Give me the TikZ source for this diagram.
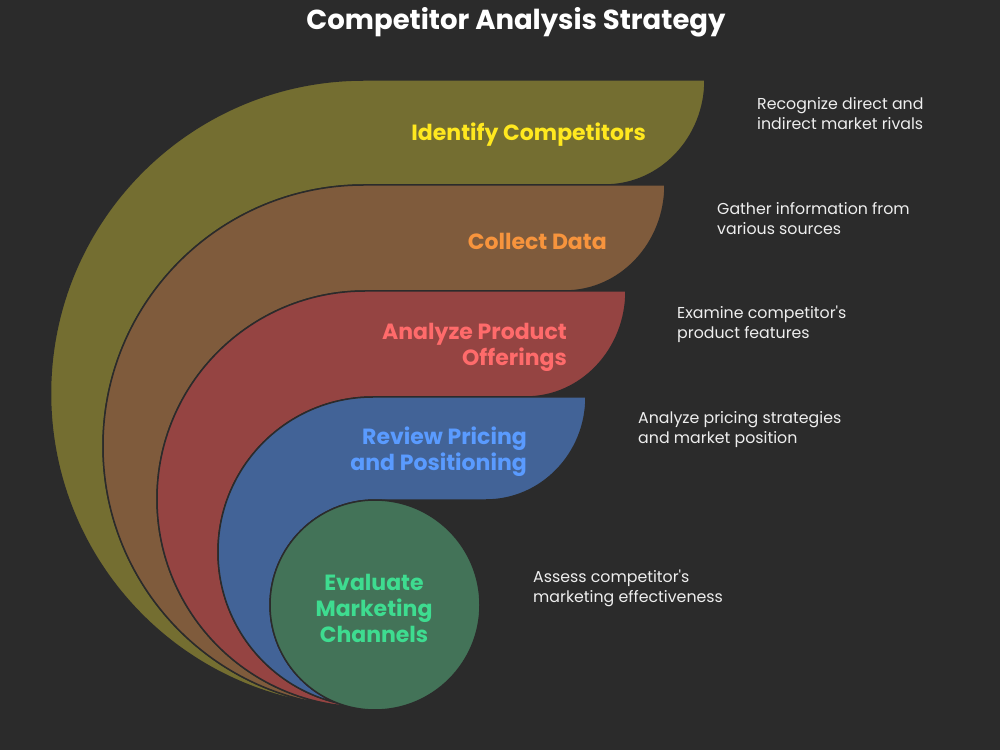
\documentclass[tikz,border=0pt]{standalone}
\usepackage{fontspec}
\setmainfont{Poppins}[Ligatures=TeXOff]
\definecolor{bg}{HTML}{2B2B2B}
\definecolor{olive}{HTML}{746E31}
\definecolor{brownf}{HTML}{7F5B3C}
\definecolor{redf}{HTML}{954442}
\definecolor{bluef}{HTML}{426397}
\definecolor{greenf}{HTML}{437358}
\definecolor{tyellow}{HTML}{FFE81F}
\definecolor{torange}{HTML}{F7943D}
\definecolor{tred}{HTML}{FF6B6B}
\definecolor{tblue}{HTML}{5A9BFF}
\definecolor{tgreen}{HTML}{3EDC90}
\definecolor{tdesc}{HTML}{EEEEEE}
\begin{document}
\begin{tikzpicture}[x=1pt,y=1pt,
  band/.style={draw=bg, line width=1.5pt, line join=round},
  lbl/.style={font=\fontsize{22}{26}\selectfont\bfseries, inner sep=0pt, anchor=east, align=right},
  desc/.style={font=\fontsize{15.8}{20}\selectfont, text=tdesc, inner sep=0pt, anchor=west, align=left}]
\fill[bg] (0,0) rectangle (1000,750);
\useasboundingbox (0,0) rectangle (1000,750);
% olive
\path[band, fill=olive] (364,43) arc[start angle=270,end angle=90,radius=313.5]
  -- (705,670) arc[start angle=0,end angle=-90,x radius=100,y radius=105]
  -- (364,565) arc[start angle=90,end angle=270,radius=261] -- cycle;
% brown
\path[band, fill=brownf] (364,43) arc[start angle=270,end angle=90,radius=261]
  -- (665,565) arc[start angle=0,end angle=-90,x radius=100,y radius=106]
  -- (365,459) arc[start angle=90,end angle=270,radius=208] -- cycle;
% red
\path[band, fill=redf] (365,43) arc[start angle=270,end angle=90,radius=208]
  -- (626,459) arc[start angle=0,end angle=-90,x radius=100,y radius=106]
  -- (373,353) arc[start angle=90,end angle=270,radius=155] -- cycle;
% blue
\path[band, fill=bluef] (373,43) arc[start angle=270,end angle=90,radius=155]
  -- (586,353) arc[start angle=0,end angle=-90,x radius=100,y radius=103]
  -- (375,250) arc[start angle=90,end angle=270,radius=105] -- cycle;
% green
\path[band, fill=greenf] (375,145) circle[radius=105];

\node[font=\fontsize{27.5}{30}\selectfont\bfseries, text=white, inner sep=0pt] (title) at (516,728) {Competitor Analysis Strategy};

\node[lbl, text=tyellow] (l1) at (646,615) {Identify Competitors};
\node[lbl, text=torange] (l2) at (607,509) {Collect Data};
\node[lbl, text=tred] (l3) at (567,403) {Analyze Product\\Offerings};
\node[lbl, text=tblue] (l4) at (527,298) {Review Pricing\\and Positioning};
\node[lbl, text=tgreen, anchor=center, align=center] (l5) at (374,142) {Evaluate\\Marketing\\Channels};

\node[desc] (d1) at (757,636) {Recognize direct and\\indirect market rivals};
\node[desc] (d2) at (717,531) {Gather information from\\various sources};
\node[desc] (d3) at (677,426) {Examine competitor's\\product features};
\node[desc] (d4) at (638,320) {Analyze pricing strategies\\and market position};
\node[desc] (d5) at (533,162) {Assess competitor's\\marketing effectiveness};
\end{tikzpicture}
\end{document}
